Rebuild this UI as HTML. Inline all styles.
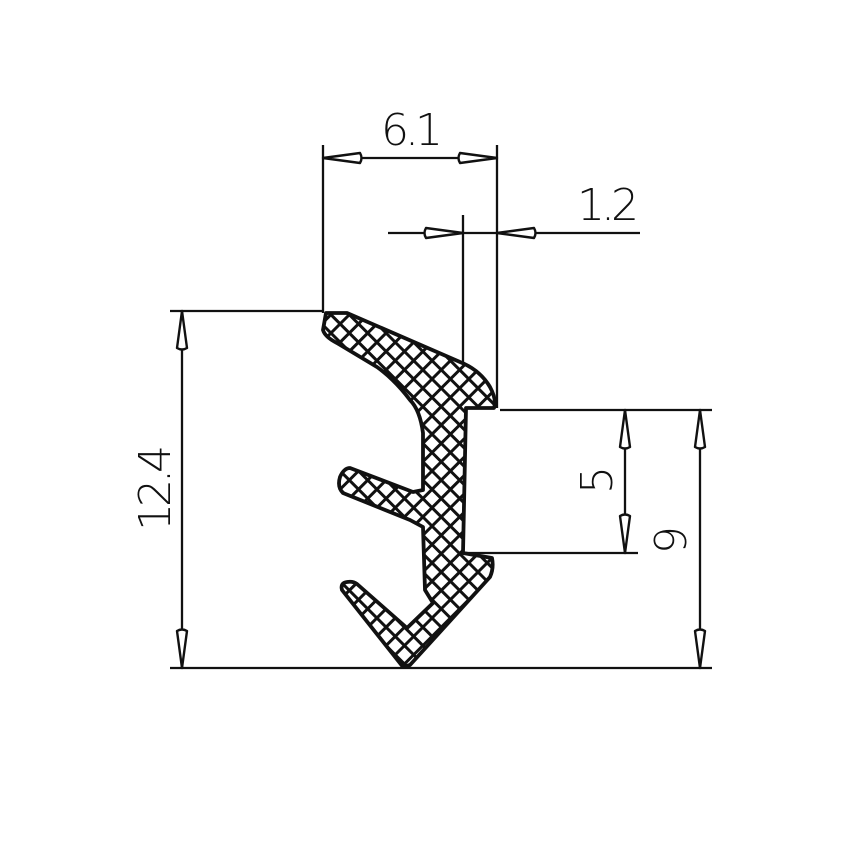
<!DOCTYPE html>
<html><head><meta charset="utf-8"><style>
html,body{margin:0;padding:0;background:#fff;}
svg{display:block;}
text{font-family:"DejaVu Sans","Liberation Sans",sans-serif;font-weight:200;fill:#111;letter-spacing:-4px;}
</style></head><body>
<svg width="850" height="850" viewBox="0 0 850 850" xmlns="http://www.w3.org/2000/svg">
<defs>
<pattern id="h" width="13" height="13" patternUnits="userSpaceOnUse" patternTransform="rotate(45)">
<rect width="13" height="13" fill="#fff"/>
<rect x="0" y="0" width="13" height="3" fill="#111"/>
<rect x="0" y="0" width="3" height="13" fill="#111"/>
</pattern>
<g id="ar"><path d="M0,0 L-37,-5 Q-40,0 -37,5 Z" fill="#fff" stroke="#111" stroke-width="2.4" stroke-linejoin="round"/></g>
</defs>
<g stroke="#111" stroke-width="2.3" fill="none">
<line x1="323" y1="145" x2="323" y2="313"/>
<line x1="497" y1="145" x2="497" y2="408"/>
<line x1="323" y1="158" x2="497" y2="158"/>
<line x1="463" y1="215" x2="463" y2="365"/>
<line x1="388" y1="233" x2="640" y2="233"/>
<line x1="170" y1="311" x2="323" y2="311"/>
<line x1="170" y1="668" x2="712" y2="668"/>
<line x1="182" y1="311" x2="182" y2="668"/>
<line x1="500" y1="410" x2="712" y2="410"/>
<line x1="466" y1="553" x2="638" y2="553"/>
<line x1="625" y1="410" x2="625" y2="553"/>
<line x1="700" y1="410" x2="700" y2="668"/>
</g>
<use href="#ar" transform="translate(323,158) rotate(180)"/>
<use href="#ar" transform="translate(497,158)"/>
<use href="#ar" transform="translate(463,233)"/>
<use href="#ar" transform="translate(497,233) rotate(180)"/>
<use href="#ar" transform="translate(182,311) rotate(-90)"/>
<use href="#ar" transform="translate(182,668) rotate(90)"/>
<use href="#ar" transform="translate(625,410) rotate(-90)"/>
<use href="#ar" transform="translate(625,553) rotate(90)"/>
<use href="#ar" transform="translate(700,410) rotate(-90)"/>
<use href="#ar" transform="translate(700,668) rotate(90)"/>
<path d="M326,313 L347,313 L460,362 Q480,370 490,387 Q497,400 494,408 L466,408 L463,553 L492,558 Q494,568 490,577 L410,665 L403,667 L342,590 Q340,583 347,582 Q353,581 357,584 L407,628 L433,603 L425,590 L423,527 L410,520 L343,493 Q337,487 340,477 Q344,468 350,468 L413,492 L423,490 L423,433 Q420,410 410,400 Q395,380 377,367 L337,343 Q325,337 323,330 Z"
 fill="url(#h)" stroke="#111" stroke-width="3.8" stroke-linejoin="round"/>
<text x="410" y="145" font-size="44" text-anchor="middle">6.1</text>
<text x="606" y="220" font-size="44" text-anchor="middle">1.2</text>
<text transform="translate(170,490) rotate(-90)" font-size="44" text-anchor="middle">12.4</text>
<text transform="translate(612,482) rotate(-90)" font-size="44" text-anchor="middle">5</text>
<text transform="translate(686,542) rotate(-90)" font-size="44" text-anchor="middle">9</text>
</svg>
</body></html>
